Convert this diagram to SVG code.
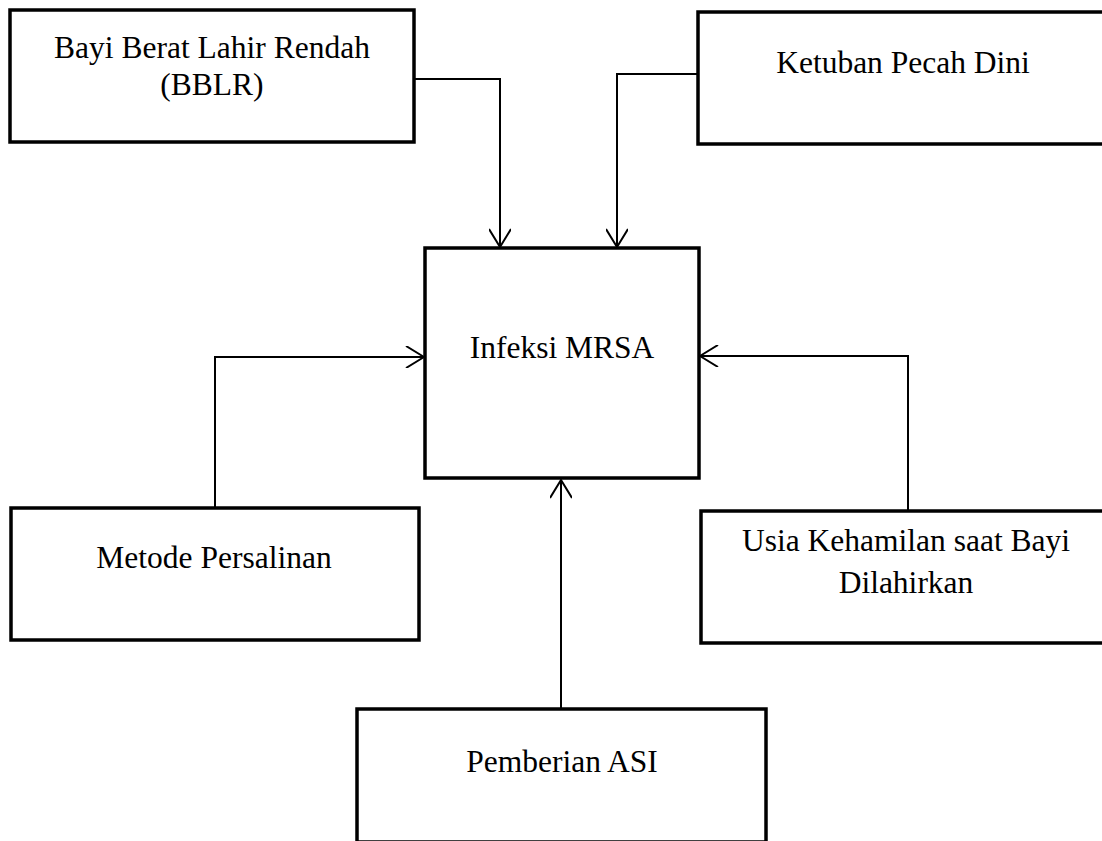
<svg xmlns="http://www.w3.org/2000/svg" width="1102" height="841" viewBox="0 0 1102 841">
<style>
.box{fill:#fff;stroke:#000;stroke-width:3.5}
.lbl{font-family:"Liberation Serif","Times New Roman",serif;font-size:31.5px;fill:#000;text-anchor:middle}
.con{fill:none;stroke:#000;stroke-width:2}
</style>
<defs>
<marker id="arr" viewBox="0 0 20 22" refX="19" refY="11" markerWidth="20" markerHeight="22" markerUnits="userSpaceOnUse" orient="auto">
<path d="M1,0 L19,11 L1,22" fill="none" stroke="#000" stroke-width="2"/>
</marker>
</defs>
<rect width="1102" height="841" fill="#fff"/>
<g id="connectors">
<path class="con" d="M414,79 H500 V247" marker-end="url(#arr)"/>
<path class="con" d="M698,74 H617 V247" marker-end="url(#arr)"/>
<path class="con" d="M215,508 V357 H424" marker-end="url(#arr)"/>
<path class="con" d="M908,511 V356 H700" marker-end="url(#arr)"/>
<path class="con" d="M561,709 V480" marker-end="url(#arr)"/>
</g>
<g id="bblr">
<rect class="box" x="10" y="10" width="404" height="132"/>
<text class="lbl" x="212" y="58">Bayi Berat Lahir Rendah</text>
<text class="lbl" x="212" y="95">(BBLR)</text>
</g>
<g id="ketuban">
<rect class="box" x="698" y="12" width="410" height="132"/>
<text class="lbl" x="903" y="73">Ketuban Pecah Dini</text>
</g>
<g id="mrsa">
<rect class="box" x="425" y="248" width="274" height="230"/>
<text class="lbl" x="562" y="358">Infeksi MRSA</text>
</g>
<g id="metode">
<rect class="box" x="11" y="508" width="408" height="132"/>
<text class="lbl" x="214" y="568">Metode Persalinan</text>
</g>
<g id="usia">
<rect class="box" x="701" y="511" width="407" height="132"/>
<text class="lbl" x="906" y="551">Usia Kehamilan saat Bayi</text>
<text class="lbl" x="906" y="593">Dilahirkan</text>
</g>
<g id="asi">
<rect class="box" x="357" y="709" width="409" height="133"/>
<text class="lbl" x="562" y="772">Pemberian ASI</text>
</g>
</svg>
